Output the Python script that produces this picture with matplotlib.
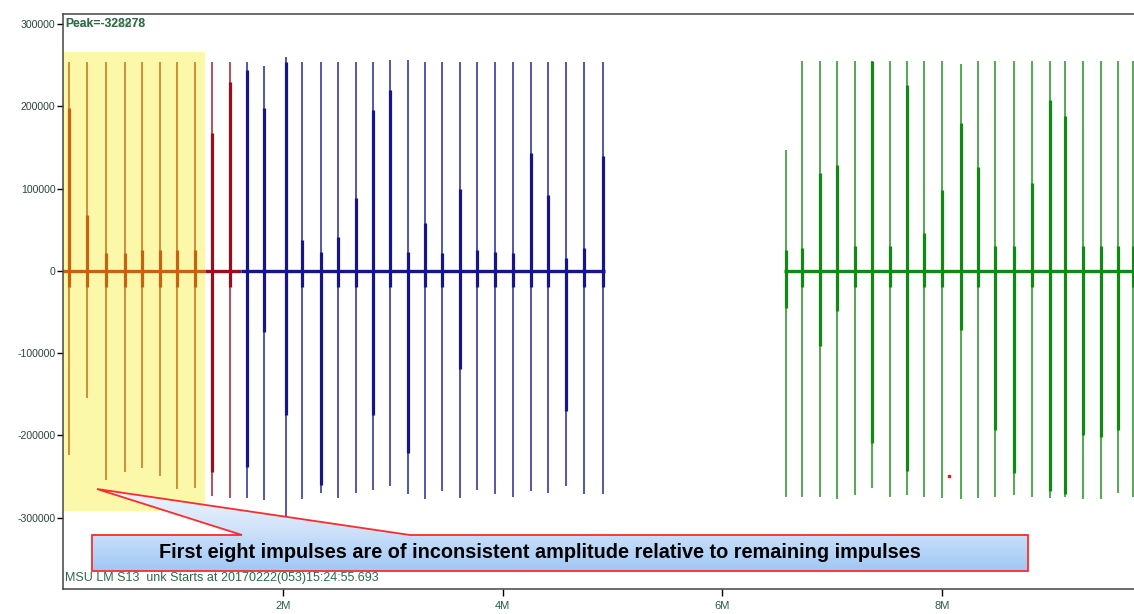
import numpy as np
import matplotlib
matplotlib.use("Agg")
import matplotlib.pyplot as plt
from matplotlib.patches import Rectangle, Polygon
from matplotlib.colors import LinearSegmentedColormap

plt.rcParams["font.family"] = ["Liberation Sans", "DejaVu Sans"]

# impulse data, time in millions of samples, amplitude in counts
orange_t = [0.057, 0.219, 0.392, 0.565, 0.720, 0.881, 1.041, 1.202]
orange_pos = [254000, 254000, 254000, 254000, 254000, 254000, 254000, 254000]
orange_neg = [-224000, -155000, -254000, -245000, -240000, -250000, -265000, -264000]
orange_core_pos = [198000, 68000, 22000, 22000, 25000, 25000, 25000, 25000]
orange_core_neg = [-20000, -20000, -20000, -20000, -20000, -20000, -20000, -20000]

red_t = [1.360, 1.515]
red_pos = [254000, 254000]
red_neg = [-274000, -276000]
red_core_pos = [167000, 230000]
red_core_neg = [-245000, -20000]

blue_t = [1.676, 1.831, 2.025, 2.174, 2.347, 2.505, 2.662, 2.821, 2.978, 3.136, 3.291,
          3.452, 3.613, 3.770, 3.934, 4.092, 4.256, 4.415, 4.578, 4.745, 4.909]
blue_pos = [254000, 249000, 260000, 254000, 254000, 254000, 254000, 254000, 256000, 256000, 254000,
            254000, 254000, 254000, 254000, 254000, 254000, 254000, 254000, 254000, 254000]
blue_neg = [-276000, -279000, -299000, -277000, -270000, -276000, -270000, -266000, -262000, -271000, -277000,
            -268000, -276000, -266000, -272000, -275000, -268000, -270000, -262000, -272000, -272000]
blue_core_pos = [244000, 198000, 254000, 37000, 23000, 41000, 88000, 196000, 220000, 23000, 58000,
                 22000, 100000, 25000, 23000, 22000, 143000, 92000, 16000, 28000, 140000]
blue_core_neg = [-238000, -74000, -175000, -20000, -260000, -20000, -20000, -175000, -20000, -221000, -20000,
                 -20000, -120000, -20000, -20000, -20000, -20000, -20000, -170000, -20000, -20000]

green_t = [6.576, 6.727, 6.888, 7.046, 7.207, 7.359, 7.523, 7.680, 7.835, 7.996, 8.169,
           8.324, 8.482, 8.655, 8.816, 8.977, 9.119, 9.281, 9.442, 9.602, 9.740]
green_pos = [147000, 255000, 255000, 255000, 255000, 255000, 255000, 255000, 255000, 255000, 252000,
             255000, 255000, 255000, 255000, 255000, 255000, 255000, 255000, 255000, 255000]
green_neg = [-274500, -274500, -274500, -277800, -272500, -264400, -274500, -272500, -274500, -276600, -277800,
             -276600, -274500, -272500, -274500, -276600, -274500, -277800, -277800, -270500, -274500]
green_core_pos = [25000, 28000, 118700, 128500, 30000, 255000, 30000, 225800, 45700, 98000, 180000,
                  126400, 30000, 30000, 107000, 207500, 188000, 30000, 30000, 30000, 30000]
green_core_neg = [-45000, -20000, -92000, -49500, -20000, -209000, -20000, -244000, -20000, -20000, -72000,
                  -20000, -193000, -246000, -20000, -268000, -272000, -199500, -201600, -193000, -20000]

# record spans (start, end) for each trace
orange_span = (0.0, 1.29)
red_span = (1.29, 1.62)
blue_span = (1.62, 4.93)
green_span = (6.56, 9.76)

stray_t = [8.06]
stray_v = [-250000]

y_ticks = [300000, 200000, 100000, 0, -100000, -200000, -300000]
x_ticks = [2, 4, 6, 8]
x_labels = ["2M", "4M", "6M", "8M"]

fig = plt.figure(figsize=(11.34, 6.14), dpi=100)
ax = fig.add_axes([63 / 1134, 25 / 614, 1 - 63 / 1134, 575 / 614])

# highlighted region behind first eight impulses
ax.add_patch(Rectangle((0, -292000), 1.293, 558000, color="#fcf8aa", zorder=0, lw=0))

traces = [
    (orange_t, orange_pos, orange_neg, orange_core_pos, orange_core_neg, orange_span, "#c4650e"),
    (red_t, red_pos, red_neg, red_core_pos, red_core_neg, red_span, "#9c0c1c"),
    (blue_t, blue_pos, blue_neg, blue_core_pos, blue_core_neg, blue_span, "#16168a"),
    (green_t, green_pos, green_neg, green_core_pos, green_core_neg, green_span, "#118a11"),
]
for t, pos, neg, cpos, cneg, span, col in traces:
    ax.hlines(0, span[0], span[1], color=col, lw=2.4, zorder=2)
    ax.vlines(t, neg, pos, color=col, lw=1.2, alpha=0.85, zorder=2)
    ax.vlines(t, cneg, cpos, color=col, lw=2.3, zorder=3)

ax.plot(stray_t, stray_v, "s", color="#cc2222", ms=1.5, zorder=3)

ax.set_xlim(0, 9.745)
ax.set_ylim(-386900, 312200)
ax.set_yticks(y_ticks)
ax.set_yticklabels([str(v) for v in y_ticks])
ax.set_xticks(x_ticks)
ax.set_xticklabels(x_labels)
ax.tick_params(axis="y", length=4, width=1, pad=1.5, labelsize=7.6, labelcolor="#2a4538")
ax.tick_params(axis="x", length=5, width=1, pad=3.5, labelsize=8, labelcolor="#2a5a48")
for s in ["left", "top", "bottom"]:
    ax.spines[s].set_color("#444444")
    ax.spines[s].set_linewidth(1.1)
ax.spines["right"].set_visible(False)

# overlay in pixel coordinates for the callout and captions
ov = fig.add_axes([0, 0, 1, 1], zorder=5)
ov.patch.set_alpha(0)
ov.axis("off")

shape = [(92, 535), (242, 535), (97, 489), (410, 535), (1028, 535), (1028, 571), (92, 571)]
poly = Polygon(shape, closed=True, facecolor="none", edgecolor="#ff2a2a", lw=1.3, zorder=6)
ov.add_patch(poly)
cmap = LinearSegmentedColormap.from_list("callout", ["#eef5fd", "#cfe2fa", "#9fc8f6"])
grad = np.linspace(0, 1, 100).reshape(-1, 1)
im = ov.imshow(grad, extent=(92, 1028, 571, 489), origin="upper", aspect="auto", cmap=cmap, zorder=5)
im.set_clip_path(poly)
ov.text(540, 552, "First eight impulses are of inconsistent amplitude relative to remaining impulses",
        ha="center", va="center", fontsize=14.3, fontweight="bold", color="black", zorder=7)

ov.text(65, 578.5, "MSU LM S13  unk Starts at 20170222(053)15:24:55.693",
        ha="left", va="center", fontsize=9, color="#2a6a4a", zorder=7)
ov.text(65, 24, "Peak=-328278", ha="left", va="center", fontsize=8.7, fontweight="bold",
        color="#3a8a3a", zorder=7)
ov.text(65, 24, "Peak=-322878", ha="left", va="center", fontsize=8.7, fontweight="bold",
        color="#2a4a5a", alpha=0.5, zorder=7)

ov.set_xlim(0, 1134)
ov.set_ylim(614, 0)

plt.savefig("out.png", dpi=100)
plt.close()
